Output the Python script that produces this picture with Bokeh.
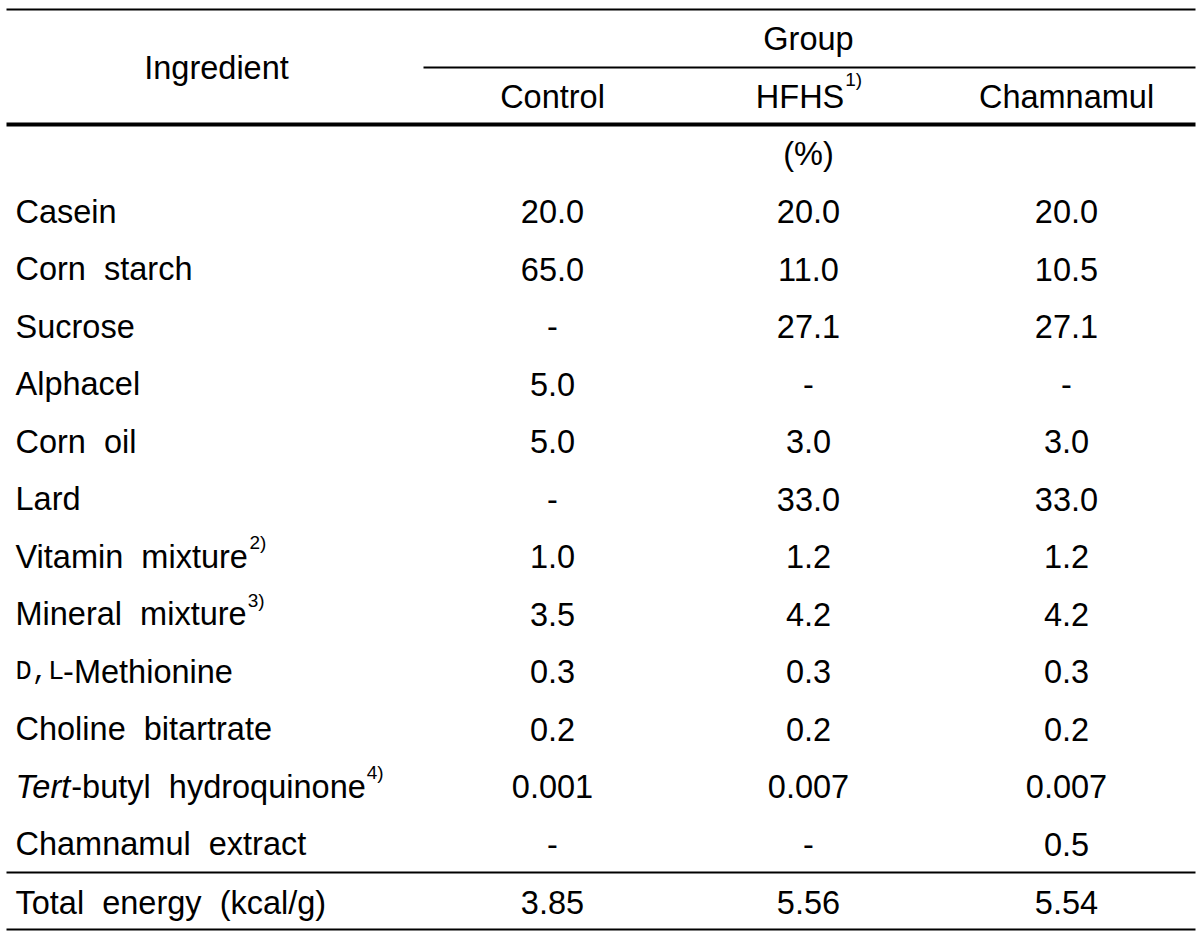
from bokeh.plotting import figure
from bokeh.models import Range1d, ColumnDataSource
from bokeh.core.properties import value
from bokeh.embed import file_html
from bokeh.resources import INLINE

# ---------------- data ----------------
columns = ["Control", "HFHS", "Chamnamul"]
column_notes = ["", "1)", ""]
group_label = "Group"
unit_label = "(%)"
row_header = "Ingredient"

ingredients = ["Casein", "Corn starch", "Sucrose", "Alphacel", "Corn oil", "Lard",
               "Vitamin mixture", "Mineral mixture", "-Methionine", "Choline bitartrate",
               "-butyl hydroquinone", "Chamnamul extract"]
ingredient_smallcaps = ["", "", "", "", "", "", "", "", "D,L", "", "", ""]
ingredient_italic = ["", "", "", "", "", "", "", "", "", "", "Tert", ""]
ingredient_notes = ["", "", "", "", "", "", "2)", "3)", "", "", "4)", ""]

control = ["20.0", "65.0", "-", "5.0", "5.0", "-", "1.0", "3.5", "0.3", "0.2", "0.001", "-"]
hfhs = ["20.0", "11.0", "27.1", "-", "3.0", "33.0", "1.2", "4.2", "0.3", "0.2", "0.007", "-"]
chamnamul = ["20.0", "10.5", "27.1", "-", "3.0", "33.0", "1.2", "4.2", "0.3", "0.2", "0.007", "0.5"]

total_label = "Total energy (kcal/g)"
total_energy = ["3.85", "5.56", "5.54"]

# ---------------- layout ----------------
FONT = "Liberation Sans"
FS = 32.5
SUP_FS = 19
SC_FS = 27
W = {' ': 278, '\u00a0': 278, '(': 333, ')': 333, '%': 889, ',': 278, '-': 333, '.': 278,
     '/': 278, 'A': 667, 'C': 722, 'D': 722, 'F': 611, 'G': 778, 'H': 722, 'I': 278,
     'L': 556, 'M': 833, 'S': 667, 'T': 611, 'V': 667, 'a': 556, 'b': 556, 'c': 500,
     'd': 556, 'e': 556, 'g': 556, 'h': 556, 'i': 222, 'k': 500, 'l': 222, 'm': 833,
     'n': 556, 'o': 556, 'p': 556, 'q': 556, 'r': 333, 's': 500, 't': 278, 'u': 556,
     'x': 500, 'y': 500}
for d in "0123456789":
    W[d] = 556


def tw(s, size):
    return sum(W.get(c, 556) for c in s) * size / 1000.0


def wide(s):
    # the table uses a double gap between words
    return s.replace(" ", " \u00a0")


SHIFT = 12          # renderer places the alphabetic baseline this much lower
LEFT = 15
col_x = [552, 808, 1066]
ingr_x = 216
group_x = 808
first_base = 223 - SHIFT
step = 57.5
total_base = 914 - SHIFT
head_base = 108 - SHIFT

PW, PH = 1198, 938
p = figure(width=PW, height=PH, output_backend="svg", toolbar_location=None,
           x_range=Range1d(0, PW), y_range=Range1d(PH, 0), min_border=0)
p.axis.visible = False
p.grid.visible = False
p.outline_line_color = None
p.background_fill_color = "white"
p.border_fill_color = "white"

# rules
p.segment(x0=[6, 423, 6, 6], y0=[9, 67, 872, 929], x1=[1195, 1195, 1195, 1195],
          y1=[9, 67, 872, 929], line_color="black", line_width=2)
p.segment(x0=[6], y0=[124], x1=[1195], y1=[124], line_color="black", line_width=4)

left_x, left_y, left_t = [], [], []
ital_x, ital_y, ital_t = [], [], []
sc_x, sc_y, sc_t = [], [], []
sup_x, sup_y, sup_t = [], [], []
cen_x, cen_y, cen_t = [], [], []

# header
cen_x += [ingr_x, group_x]
cen_y += [79 - SHIFT, 50 - SHIFT]
cen_t += [row_header, group_label]
for cx, name, note in zip(col_x, columns, column_notes):
    full = tw(name, FS) + (tw(note, SUP_FS) if note else 0)
    x0 = cx - full / 2
    left_x.append(x0)
    left_y.append(head_base)
    left_t.append(name)
    if note:
        sup_x.append(x0 + tw(name, FS) + 1)
        sup_y.append(head_base - 17)
        sup_t.append(note)
cen_x.append(group_x)
cen_y.append(165 - SHIFT)
cen_t.append(unit_label)

# body rows
for i, name in enumerate(ingredients):
    base = first_base + i * step
    x = LEFT
    if ingredient_smallcaps[i]:
        sc_x.append(x)
        sc_y.append(base)
        sc_t.append(ingredient_smallcaps[i])
        x += len(ingredient_smallcaps[i]) * 0.6 * SC_FS - 1
    if ingredient_italic[i]:
        ital_x.append(x)
        ital_y.append(base)
        ital_t.append(ingredient_italic[i])
        x += tw(ingredient_italic[i], FS) - 2
    txt = wide(name)
    left_x.append(x)
    left_y.append(base)
    left_t.append(txt)
    x += tw(txt, FS)
    if ingredient_notes[i]:
        sup_x.append(x + 1)
        sup_y.append(base - 14)
        sup_t.append(ingredient_notes[i])
    for cx, vals in zip(col_x, [control, hfhs, chamnamul]):
        cen_x.append(cx)
        cen_y.append(base)
        cen_t.append(vals[i])

left_x.append(LEFT)
left_y.append(total_base)
left_t.append(wide(total_label))
for cx, v in zip(col_x, total_energy):
    cen_x.append(cx)
    cen_y.append(total_base)
    cen_t.append(v)

common = dict(text_color="black", text_baseline="alphabetic")
p.text(x="x", y="y", text="t", source=ColumnDataSource(dict(x=left_x, y=left_y, t=left_t)),
       text_font=value(FONT), text_font_size=f"{FS}px", text_align="left", **common)
p.text(x="x", y="y", text="t", source=ColumnDataSource(dict(x=cen_x, y=cen_y, t=cen_t)),
       text_font=value(FONT), text_font_size=f"{FS}px", text_align="center", **common)
p.text(x="x", y="y", text="t", source=ColumnDataSource(dict(x=ital_x, y=ital_y, t=ital_t)),
       text_font=value(FONT), text_font_size=f"{FS}px", text_font_style="italic",
       text_align="left", **common)
p.text(x="x", y="y", text="t", source=ColumnDataSource(dict(x=sc_x, y=sc_y, t=sc_t)),
       text_font=value("Liberation Mono"), text_font_size=f"{SC_FS}px", text_align="left", **common)
p.text(x="x", y="y", text="t", source=ColumnDataSource(dict(x=sup_x, y=sup_y, t=sup_t)),
       text_font=value(FONT), text_font_size=f"{SUP_FS}px", text_align="left", **common)

open("out.html", "w").write(file_html(p, INLINE))
